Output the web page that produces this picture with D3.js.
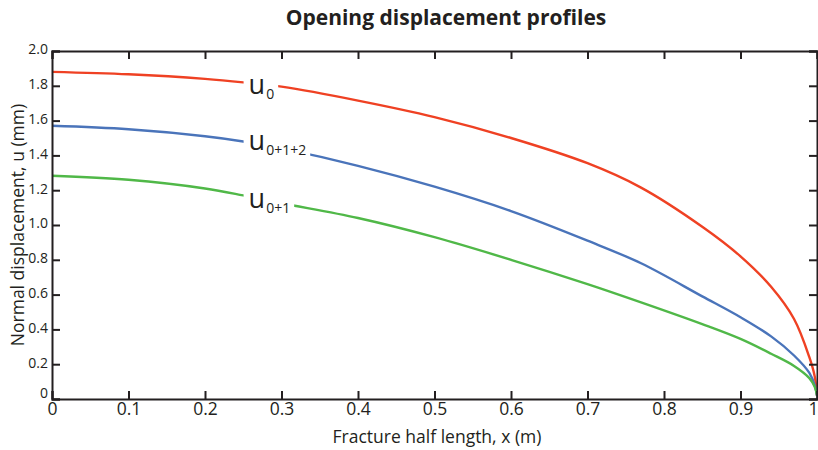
<!DOCTYPE html>
<html>
<head>
<meta charset="utf-8">
<script src="https://cdn.jsdelivr.net/npm/d3@7"></script>
<style>
  body { margin: 0; background: #fff; }
  text { font-family: "Open Sans", "DejaVu Sans", sans-serif; fill: #231f20; }
</style>
</head>
<body>
<svg id="chart" width="818" height="450"></svg>
<script>
// --- Data ---
const xValues = [0, 0.1, 0.2, 0.25, 0.3, 0.4, 0.5, 0.6, 0.7, 0.77, 0.85, 0.9, 0.94, 0.97, 0.99, 0.997, 1.0];
const u0 = [1.88, 1.866, 1.84, 1.82, 1.795, 1.715, 1.62, 1.5, 1.355, 1.215, 0.99, 0.82, 0.645, 0.46, 0.24, 0.13, 0.02];
const u012 = [1.57, 1.55, 1.51, 1.48, 1.44, 1.34, 1.22, 1.08, 0.91, 0.78, 0.59, 0.47, 0.36, 0.25, 0.15, 0.08, 0.02];
const u01 = [1.283, 1.26, 1.21, 1.17, 1.125, 1.04, 0.93, 0.8, 0.66, 0.555, 0.43, 0.345, 0.26, 0.19, 0.12, 0.07, 0.02];

const seriesSubs = ["0", "0+1+2", "0+1"];
const seriesColors = ["#ef4123", "#4a74ba", "#50b848"];
const labelX = 0.257; // where the inline labels break each curve

const xTicks = [0, 0.1, 0.2, 0.3, 0.4, 0.5, 0.6, 0.7, 0.8, 0.9, 1];
const yTicks = [0, 0.2, 0.4, 0.6, 0.8, 1.0, 1.2, 1.4, 1.6, 1.8, 2.0];

const series = [u0, u012, u01];

// --- Layout ---
const margin = { top: 51, right: 1, bottom: 51, left: 52 };
const svg = d3.select("#chart");
const width = 818 - margin.left - margin.right;
const height = 450 - margin.top - margin.bottom;

const g = svg.append("g").attr("transform", `translate(${margin.left}, ${margin.top})`);

const xScale = d3.scaleLinear().domain([0, 1]).range([0, width]);
const yScale = d3.scaleLinear().domain([0, 2]).range([height, 0]);

const axisColor = "#231f20";

// --- Curves ---
const line = d3
  .line()
  .x((d) => xScale(d[0]))
  .y((d) => yScale(d[1]))
  .curve(d3.curveCatmullRom.alpha(0.5));

series.forEach((vals, i) => {
  g.append("path")
    .datum(xValues.map((x, j) => [x, vals[j]]))
    .attr("fill", "none")
    .attr("stroke", seriesColors[i])
    .attr("stroke-width", 2.4)
    .attr("d", line);
});

// --- Inline labels (white box breaks the curve) ---
const labelOffsets = [11, 8, 11];
series.forEach((vals, i) => {
  const yv = d3.scaleLinear().domain(xValues).range(vals)(labelX);
  const lg = g.append("g").attr("class", "curve-label");
  const t = lg
    .append("text")
    .attr("x", xScale(labelX))
    .attr("y", yScale(yv) + labelOffsets[i]);
  t.append("tspan").style("font-size", "27px").text("u");
  t.append("tspan").attr("dy", 5).attr("dx", 1).style("font-size", "14px").text(seriesSubs[i]);
  const bb = t.node().getBBox();
  lg.insert("rect", "text")
    .attr("x", bb.x - 5)
    .attr("y", bb.y)
    .attr("width", bb.width + 9)
    .attr("height", bb.height)
    .attr("fill", "#fff");
});

// --- Axes (ticks point inward, box on all sides) ---
const bottomAxis = g
  .append("g")
  .attr("transform", `translate(0, ${height})`)
  .call(d3.axisBottom(xScale).tickValues(xTicks).tickSize(-8).tickPadding(4).tickFormat(d3.format("")));
bottomAxis.selectAll("text").style("font-size", "17.5px");
bottomAxis.selectAll(".tick").filter((d) => d === 1).select("text").attr("text-anchor", "end").attr("dx", 1);

const leftAxis = g
  .append("g")
  .call(d3.axisLeft(yScale).tickValues(yTicks).tickSize(-8).tickPadding(4).tickFormat((d) => (d === 0 ? "0" : d.toFixed(1))));
leftAxis.selectAll("text").style("font-size", "14px").attr("dy", "0.2em");
leftAxis.selectAll(".tick").filter((d) => d === 0).select("text").attr("dy", "-0.1em");

g.append("g")
  .call(d3.axisTop(xScale).tickValues(xTicks).tickSize(-8).tickFormat(""));
g.append("g")
  .attr("transform", `translate(${width}, 0)`)
  .call(d3.axisRight(yScale).tickValues(yTicks).tickSize(-8).tickFormat(""));

g.selectAll(".domain").attr("stroke", axisColor).attr("stroke-width", 2);
g.selectAll(".tick line").attr("stroke", axisColor).attr("stroke-width", 2);
g.selectAll(".tick text").style("fill", axisColor);

// --- Titles ---
svg
  .append("text")
  .attr("x", 446)
  .attr("y", 25)
  .attr("text-anchor", "middle")
  .style("font-size", "21px")
  .style("font-weight", "bold")
  .text("Opening displacement profiles");

svg
  .append("text")
  .attr("text-anchor", "middle")
  .attr("x", 437)
  .attr("y", 443)
  .style("font-size", "17.5px")
  .text("Fracture half length, x (m)");

svg
  .append("text")
  .attr("text-anchor", "middle")
  .attr("transform", "rotate(-90)")
  .attr("x", -(margin.top + height / 2))
  .attr("y", 24)
  .style("font-size", "17.5px")
  .text("Normal displacement, u (mm)");
</script>
</body>
</html>
